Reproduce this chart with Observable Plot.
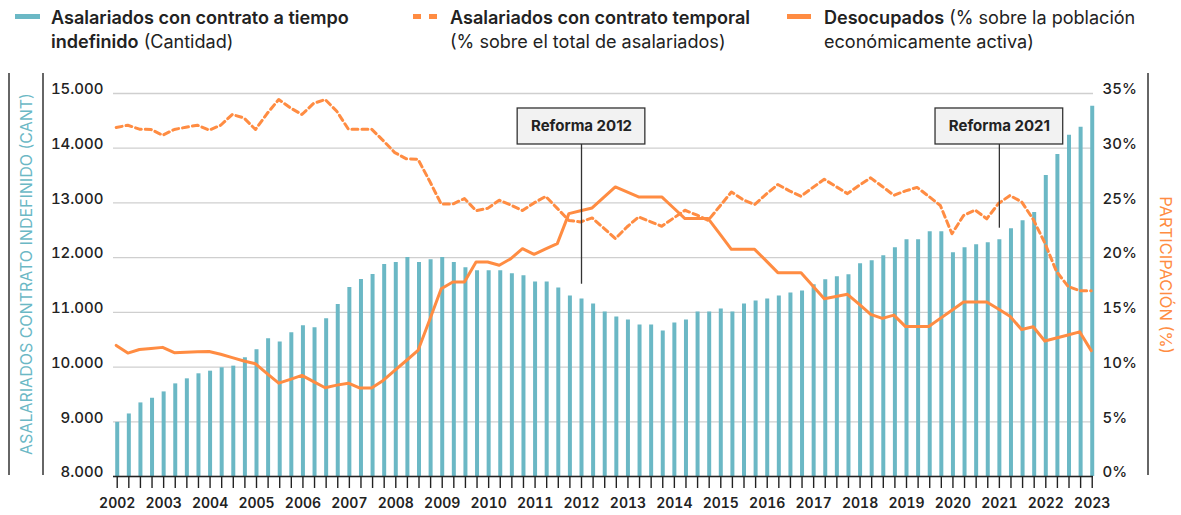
<!DOCTYPE html>
<html>
<head>
<meta charset="utf-8">
<script src="https://cdn.jsdelivr.net/npm/d3@7"></script>
<script src="https://cdn.jsdelivr.net/npm/@observablehq/plot@0.6"></script>
<style>
  html, body { margin: 0; padding: 0; background: #fff; }
  body { font-family: Inter, "Noto Sans", sans-serif; color: #222; }
  #wrap { position: relative; width: 1181px; height: 515px; overflow: hidden; }
  .leg { position: absolute; top: 6px; font-size: 18px; line-height: 24px; color: #222; white-space: nowrap; }
  .leg b { font-weight: 600; }
  .sw { position: absolute; height: 5px; top: 14px; }
  #chart { position: absolute; left: 0; top: 60px; }
</style>
</head>
<body>
<div id="wrap">
  <div class="sw" style="left:15px;width:25px;background:#6bb8c5"></div>
  <div class="leg" style="left:51px"><b id="fit">Asalariados con contrato a tiempo</b><br><b>indefinido</b> (Cantidad)</div>
  <div class="sw" style="left:413px;width:8px;background:#ff8c42"></div>
  <div class="sw" style="left:429px;width:8px;background:#ff8c42"></div>
  <div class="leg" style="left:450px"><b>Asalariados con contrato temporal</b><br>(% sobre el total de asalariados)</div>
  <div class="sw" style="left:787px;width:24px;background:#ff8c42"></div>
  <div class="leg" style="left:824px"><b>Desocupados</b> (% sobre la población<br>económicamente activa)</div>
  <div id="chart"></div>
</div>
<script>
// ---- Data (quarterly, 2002-T1 .. 2023-T1) ----
const years = ["2002","2003","2004","2005","2006","2007","2008","2009","2010","2011","2012",
               "2013","2014","2015","2016","2017","2018","2019","2020","2021","2022","2023"];
const quarterNames = ["T1","T2","T3","T4"];

// Asalariados con contrato a tiempo indefinido (miles)
const indefinido = [
  8990, 9143, 9345, 9430, 9546, 9693, 9785, 9877, 9925, 9987,
  10017, 10170, 10317, 10518, 10457, 10628, 10757, 10720, 10885, 11142,
  11454, 11600, 11692, 11875, 11912, 12004, 11912, 11961, 12004, 11912,
  11814, 11759, 11759, 11759, 11704, 11667, 11557, 11557, 11447, 11301,
  11246, 11154, 11007, 10916, 10861, 10769, 10769, 10659, 10806, 10861,
  11007, 11007, 11062, 11007, 11154, 11209, 11246, 11301, 11356, 11392,
  11503, 11594, 11649, 11686, 11888, 11943, 12034, 12181, 12328, 12328,
  12474, 12474, 12089, 12181, 12236, 12273, 12328, 12529, 12676, 12823,
  13501, 13886, 14235, 14381, 14767
];

// Asalariados con contrato temporal (% sobre el total de asalariados)
const temporal = [
  31.89, 32.10, 31.74, 31.71, 31.19, 31.71, 31.92, 32.10, 31.65, 32.10,
  33.08, 32.77, 31.71, 33.17, 34.45, 33.69, 33.08, 34.09, 34.45, 33.38,
  31.74, 31.74, 31.74, 30.70, 29.60, 29.03, 28.99, 27.00, 24.90, 24.90,
  25.40, 24.30, 24.50, 25.25, 24.80, 24.30, 25.00, 25.60, 24.50, 23.40,
  23.26, 23.63, 22.70, 21.74, 22.80, 23.72, 23.30, 22.87, 23.60, 24.33,
  23.90, 23.41, 24.70, 26.00, 25.30, 24.85, 25.80, 26.68, 26.10, 25.61,
  26.40, 27.16, 26.50, 25.85, 26.60, 27.29, 26.50, 25.70, 26.10, 26.42,
  25.60, 24.77, 22.18, 23.85, 24.35, 23.55, 24.94, 25.68, 25.10, 23.50,
  21.35, 18.75, 17.37, 16.98, 16.98
];

// Desocupados (% sobre la población económicamente activa)
const desocupados = [
  11.98, 11.28, 11.61, 11.70, 11.80, 11.31, 11.35, 11.39, 11.43, 11.17,
  10.86, 10.55, 10.30, 9.40, 8.53, 8.88, 9.24, 8.67, 8.11, 8.35,
  8.53, 8.08, 8.08, 8.78, 9.70, 10.60, 11.52, 14.30, 17.16, 17.77,
  17.77, 19.60, 19.60, 19.30, 19.91, 20.82, 20.30, 20.80, 21.28, 24.02,
  24.28, 24.54, 25.50, 26.46, 26.00, 25.55, 25.55, 25.55, 24.56, 23.57,
  23.57, 23.57, 22.17, 20.76, 20.76, 20.76, 19.70, 18.63, 18.63, 18.63,
  17.44, 16.25, 16.45, 16.65, 15.75, 14.82, 14.45, 14.75, 13.70, 13.70,
  13.70, 14.45, 15.20, 15.94, 15.94, 15.94, 15.30, 14.65, 13.43, 13.68,
  12.38, 12.65, 12.93, 13.22, 11.50
];

const leftTicks = [8000, 9000, 10000, 11000, 12000, 13000, 14000, 15000];
const pctTicks = [0, 5, 10, 15, 20, 25, 30, 35];
const reformaLabels = ["Reforma 2012", "Reforma 2021"];
const reformaQuarters = ["2012-T1", "2021-T1"];

// ---- Legend font fitted to the reference line width ----
(function fitLegend() {
  const el = document.getElementById("fit");
  const w = el.getBoundingClientRect().width;
  const size = 18 * 298 / w;
  const lh = 23.5;
  document.querySelectorAll(".leg").forEach(d => {
    d.style.fontSize = size.toFixed(2) + "px";
    d.style.lineHeight = lh + "px";
    const top = 24.5 - ((lh - 1.21 * size) / 2 + 0.969 * size);
    d.style.top = top.toFixed(1) + "px";
  });
})();

// ---- Build table ----
const quarterLabels = years.flatMap(y => quarterNames.map(q => `${y}-${q}`)).slice(0, indefinido.length);
const rows = indefinido.map((v, i) => ({
  i, q: quarterLabels[i], indef: v, temp: temporal[i], deso: desocupados[i]
}));
const idxOf = q => quarterLabels.indexOf(q);
// secondary (percentage) axis mapped on the primary scale: 0% -> 8.000, 35% -> 15.000
const pct = p => 8000 + p * 200;
const reformas = reformaLabels.map((label, k) => ({label, i: idxOf(reformaQuarters[k])}));

const teal = "#6bb8c5";
const orange = "#ff8c42";
const dark = "#222";
const fmtThousands = d => d3.format(",")(d).replace(/,/g, ".");

const chart = Plot.plot({
  width: 1181,
  height: 455,
  marginTop: 33,
  marginBottom: 39,
  marginLeft: 113,
  marginRight: 88,
  style: { fontFamily: "Inter, 'Noto Sans', sans-serif", fontSize: "15px", color: dark, background: "transparent", overflow: "visible" },
  x: { type: "linear", domain: [-0.32, 84.11], axis: null },
  y: { domain: [8000, 15000], axis: null },
  marks: [
    Plot.gridY(leftTicks, { stroke: "#cfcfcf", strokeOpacity: 1, strokeWidth: 1.3 }),
    Plot.ruleX(rows, { x: "i", y1: 8000, y2: "indef", stroke: teal, strokeWidth: 4 }),
    Plot.line(rows, { x: "i", y: d => pct(d.temp), stroke: orange, strokeWidth: 3, strokeDasharray: "6,4", dx: -1 }),
    Plot.line(rows, { x: "i", y: d => pct(d.deso), stroke: orange, strokeWidth: 3, dx: -1 }),
    Plot.ruleY([8000], { stroke: dark, strokeWidth: 1.5 }),
    Plot.axisX({
      ticks: rows.map(d => d.i), tickSize: 12, tickPadding: 10, strokeWidth: 1.4,
      tickFormat: i => (i % 4 === 0 ? years[i / 4] : ""),
      fontSize: 14, fontWeight: 600, label: null
    }),
    Plot.axisY({
      anchor: "left", ticks: leftTicks, tickSize: 0, tickPadding: 10,
      tickFormat: fmtThousands, fontSize: 15, fontWeight: 500, dy: -4, label: null
    }),
    Plot.axisY({
      anchor: "right", ticks: pctTicks.map(pct), tickSize: 0, tickPadding: 9,
      tickFormat: d => Math.round((d - 8000) / 200) + "%", fontSize: 15, fontWeight: 500, dy: -4, label: null
    }),
    // Reform annotations
    Plot.ruleX(reformas, { x: "i", y1: d => (d.i === idxOf("2012-T1") ? 11514 : 12538), y2: 14068, stroke: "#333", strokeWidth: 1.3 }),
    Plot.rect(reformas, { x1: d => d.i - 5.5, x2: d => d.i + 5.5, y1: 14068, y2: 14726, fill: "#f2f2f2", stroke: "#333", strokeWidth: 1.3 }),
    Plot.text(reformas, { x: "i", y: 14397, text: "label", fontSize: 15, fontWeight: 700, fill: dark }),
    // Axis titles
    Plot.text(["ASALARIADOS CONTRATO INDEFINIDO (CANT)"], { frameAnchor: "left", textAnchor: "middle", dx: -87, dy: -11, rotate: -90, fill: teal, fontSize: 16, text: d => d }),
    Plot.text(["PARTICIPACIÓN (%)"], { frameAnchor: "right", textAnchor: "middle", dx: 72, dy: -10, rotate: 90, fill: orange, fontSize: 16.5, text: d => d })
  ]
});

// decorative vertical rules framing the axis titles
const svg = d3.select(chart);
[9, 43, 1148].forEach(x => {
  svg.append("line").attr("x1", x).attr("x2", x).attr("y1", 13).attr("y2", 415)
    .attr("stroke", "#333").attr("stroke-width", 1.5);
});
document.getElementById("chart").appendChild(chart);
</script>
</body>
</html>
